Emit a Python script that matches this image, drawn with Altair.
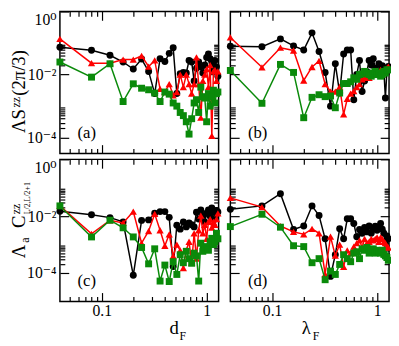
import altair as alt
import pandas as pd

SERIF = "Liberation Serif, Times New Roman, DejaVu Serif, serif"

# x positions shared by all four panels (d_F for left column, lambda_F for right column)
X = [0.04, 0.08, 0.12, 0.16, 0.2, 0.24, 0.28, 0.32, 0.36, 0.4, 0.44, 0.48, 0.52, 0.56, 0.6, 0.64,
     0.68, 0.72, 0.76, 0.8, 0.84, 0.88, 0.92, 0.96, 1.0, 1.04, 1.08, 1.12, 1.16, 1.2, 1.24, 1.28]

# panel (a)
A_BLACK = [7.4e-2, 5.9e-2, 4.1e-2, 2.5e-2, 1.5e-2, 3.1e-2, 1.26e-2, 2.5e-3, 3.2e-2, 2.6e-2, 4.7e-2, 7.1e-2,
           2.5e-3, 1.07e-2, 1.17e-2, 1.12e-2, 2.8e-2, 2.5e-2, 6.3e-3, 1.58e-2, 2.5e-2, 1.78e-2, 1.12e-2, 2.0e-2,
           3.5e-2, 4.5e-2, 3.2e-2, 2.5e-2, 1.41e-2, 2.8e-2, 1.78e-2, 8.9e-3]
A_RED = [1.35e-1, 2.3e-2, 2.3e-2, 3.0e-2, 3.0e-2, 3.9e-2, 1.8e-2, 2.8e-2, 3.5e-3, 2.8e-3, 5.0e-3, 2.2e-3,
         2.8e-3, 1.0e-2, 4.0e-3, 1.0e-2, 5.0e-3, 2.5e-3, 5.0e-3, 3.5e-2, 5.0e-3, 4.3e-4, 6.3e-3, 1.0e-2,
         1.5e-2, 4.0e-3, 2.0e-2, 1.15e-4, 1.26e-2, 1.41e-2, 6.3e-3, 1.26e-2]
A_GREEN = [2.5e-2, 8.3e-3, 2.2e-2, 1.4e-3, 5.1e-3, 3.7e-3, 3.3e-3, 2.6e-3, 1.4e-3, 2.8e-3, 2.4e-3, 1.26e-3,
           1.0e-3, 6.3e-4, 5.0e-4, 3.2e-4, 1.3e-4, 4.0e-4, 1.26e-3, 1.6e-3, 6.3e-4, 4.0e-3, 2.0e-3, 1.8e-3,
           3.2e-4, 2.5e-3, 1.0e-3, 2.0e-3, 3.2e-3, 1.26e-3, 2.5e-3, 2.8e-3]

# panel (b)
B_BLACK = [7.9e-2, 7.6e-2, 1.35e-1, 8.1e-2, 6.0e-2, 2.1e-1, 5.4e-2, 1.17e-2, 1.0e-3, 2.2e-2, 2.6e-3, 4.5e-2,
           6.0e-2, 6.0e-2, 1.6e-3, 1.0e-2, 2.8e-2, 2.9e-3, 6.3e-3, 1.23e-2, 2.8e-2, 2.0e-2, 3.2e-2, 1.6e-2,
           1.23e-2, 2.2e-2, 1.26e-2, 1.9e-2, 1.4e-2, 1.8e-3, 1.26e-2, 1.8e-2]
B_RED = [1.5e-1, 1.7e-2, 7.1e-2, 5.8e-2, 6.5e-3, 1.74e-2, 2.7e-2, 5.0e-3, 2.9e-3, 2.9e-3, 4.1e-3, 5.5e-4,
         1.7e-3, 2.5e-3, 3.0e-3, 4.0e-3, 5.0e-3, 7.1e-3, 7.9e-3, 8.9e-3, 7.9e-3, 1.0e-2, 1.12e-2, 1.0e-2,
         1.26e-2, 1.12e-2, 1.41e-2, 1.0e-2, 1.26e-2, 1.41e-2, 1.58e-2, 1.78e-2]
B_GREEN = [1.35e-2, 1.23e-3, 2.1e-2, 1.17e-2, 4.3e-4, 1.9e-3, 2.3e-3, 2.0e-3, 2.1e-3, 8.9e-4, 2.6e-3, 5.2e-3,
           5.2e-3, 5.9e-3, 7.9e-3, 7.1e-3, 1.0e-2, 1.05e-2, 1.26e-2, 1.12e-2, 1.0e-2, 8.9e-3, 1.12e-2, 1.26e-2,
           1.0e-2, 1.12e-2, 8.9e-3, 1.0e-2, 1.26e-2, 1.12e-2, 1.41e-2, 1.41e-2]

# panel (c)
C_BLACK = [1.5e-2, 1.12e-2, 8.9e-3, 6.3e-3, 8.3e-5, 7.1e-3, 7.4e-3, 1.26e-2, 1.45e-2, 1.45e-2, 9.1e-3, 1.7e-4,
           4.8e-3, 3.5e-3, 6.3e-3, 4.2e-3, 5.8e-3, 5.0e-3, 4.2e-3, 1.38e-2, 7.9e-3, 1.66e-2, 1.05e-2, 6.3e-3,
           1.26e-2, 1.66e-2, 1.0e-2, 1.95e-2, 1.38e-2, 7.9e-3, 1.58e-2, 1.41e-2]
C_RED = [2.3e-2, 2.4e-3, 7.2e-3, 5.8e-3, 1.45e-2, 1.12e-3, 3.0e-3, 1.2e-2, 3.2e-3, 9.1e-4, 2.3e-3, 3.9e-4,
         1.0e-3, 6.3e-4, 1.5e-4, 6.3e-4, 1.26e-3, 2.3e-4, 2.5e-3, 3.2e-4, 3.2e-3, 1.05e-2, 2.5e-3, 5.0e-3,
         1.6e-3, 6.3e-3, 7.9e-3, 4.0e-3, 6.3e-3, 5.0e-3, 7.9e-3, 1.26e-2]
C_GREEN = [2.3e-2, 1.86e-3, 7.2e-3, 3.9e-3, 1.86e-3, 7.9e-4, 2.1e-4, 7.1e-4, 5.2e-5, 1.9e-4, 5.0e-5, 2.5e-4,
           8.9e-5, 4.4e-4, 2.3e-4, 5.8e-4, 3.2e-4, 2.2e-4, 5.0e-4, 4.0e-4, 5.2e-5, 1.12e-3, 5.8e-4, 7.9e-4,
           8.5e-4, 6.3e-4, 1.26e-3, 1.66e-3, 1.0e-3, 1.26e-3, 2.5e-3, 1.6e-3]

# panel (d)
D_BLACK = [1.74e-2, 2.3e-2, 6.2e-2, 3.4e-3, 4.5e-3, 2.3e-2, 1.05e-2, 1.6e-3, 7.6e-5, 4.4e-4, 3.6e-3, 1.6e-3,
           8.1e-3, 8.1e-3, 5.5e-3, 1.9e-3, 3.4e-3, 2.5e-3, 4.0e-3, 2.8e-3, 4.5e-3, 2.5e-3, 3.5e-3, 4.4e-3,
           3.2e-3, 4.0e-3, 5.5e-3, 3.5e-3, 2.5e-3, 1.12e-3, 2.0e-3, 1.6e-3]
D_RED = [4.4e-2, 2.1e-2, 4.5e-3, 2.8e-3, 2.3e-3, 3.6e-3, 2.5e-3, 9.1e-5, 1.9e-3, 4.1e-4, 1.0e-3, 1.66e-4,
         6.3e-4, 5.0e-4, 8.5e-4, 1.12e-3, 1.41e-3, 7.9e-4, 1.6e-3, 1.12e-3, 1.26e-3, 1.6e-3, 1.41e-3, 1.6e-3,
         1.8e-3, 1.26e-3, 1.8e-3, 1.6e-3, 1.26e-3, 1.12e-3, 8.9e-4, 7.9e-4]
D_GREEN = [4.3e-3, 1.17e-2, 4.1e-3, 9.1e-4, 8.5e-4, 2.3e-4, 3.2e-4, 5.8e-5, 1.17e-4, 8.9e-5, 2.0e-4, 4.4e-4,
           3.2e-4, 2.5e-4, 5.0e-4, 5.6e-4, 3.2e-4, 7.1e-4, 6.3e-4, 7.9e-4, 5.0e-4, 6.3e-4, 7.1e-4, 5.0e-4,
           6.3e-4, 5.6e-4, 5.0e-4, 6.3e-4, 4.5e-4, 4.0e-4, 3.5e-4, 2.8e-4]

X_DOMAIN = [0.04, 1.3]
Y_DOMAIN_TOP = [3.16e-5, 1.0]
Y_DOMAIN_BOTTOM = [1e-5, 1.0]
X_MAJOR = [0.1, 1]
X_MINOR = [0.05, 0.06, 0.07, 0.08, 0.09, 0.2, 0.3, 0.4, 0.5, 0.6, 0.7, 0.8, 0.9]
Y_MAJOR = [1, 0.01, 0.0001]
Y_LABELS = ["10\u2070", "10\u207b\u00b2", "10\u207b\u2074"]
Y_MINOR = [0.09, 0.08, 0.07, 0.06, 0.05, 0.04, 0.03, 0.02,
           0.0009, 0.0008, 0.0007, 0.0006, 0.0005, 0.0004, 0.0003, 0.0002]
PANEL_LETTERS = ["(a)", "(b)", "(c)", "(d)"]

BLACK, RED, GREEN = "#000000", "#ff0000", "#0a8a0a"
W, H = 162, 145

ylab_expr = "'" + Y_LABELS[-1] + "'"
for v, lab in reversed(list(zip(Y_MAJOR[:-1], Y_LABELS[:-1]))):
    ylab_expr = f"datum.value == {v} ? '{lab}' : " + ylab_expr


def tick_axis(orient, offset, values, major):
    return alt.Axis(orient=orient, offset=offset, values=values, labels=False, domain=False,
                    grid=False, title=None, ticks=True, tickColor="black", tickWidth=1.2,
                    tickSize={"condition": {"test": f"indexof({major}, datum.value) >= 0", "value": 9},
                              "value": 5})


def one(v):
    return pd.DataFrame({"z": [v]})


def txt(s, x, y, size, angle=0, align="left", baseline="alphabetic"):
    kw = dict(text=s, font=SERIF, fontSize=size, color="black", align=align, baseline=baseline)
    if angle:
        kw["angle"] = angle
    return alt.Chart(one(0)).mark_text(**kw).encode(x=alt.value(x), y=alt.value(y))


def panel(black, red, green, ydom, letter, xlabels, ylabels, extras):
    xs = alt.Scale(type="log", domain=X_DOMAIN, nice=False)
    ys = alt.Scale(type="log", domain=ydom, nice=False)
    xlab_axis = alt.Axis(orient="bottom", values=X_MAJOR, format="~g", ticks=False, domain=False,
                         grid=False, title=None, labelFont=SERIF, labelFontSize=16, labelColor="black",
                         labelPadding=1, labelFlush=False) if xlabels else None
    ylab_axis = alt.Axis(orient="left", values=Y_MAJOR, labelExpr=ylab_expr, ticks=False, domain=False,
                         grid=False, title=None, labelFont=SERIF, labelFontSize=16, labelColor="black",
                         labelPadding=4, labelFlush=True) if ylabels else None
    all_x = X_MAJOR + X_MINOR
    all_y = Y_MAJOR + Y_MINOR

    def base(vals):
        return alt.Chart(pd.DataFrame({"x": X, "y": vals}))

    layers = [
        base(black).mark_line(color=BLACK, strokeWidth=1.5).encode(
            x=alt.X("x:Q", scale=xs, axis=xlab_axis), y=alt.Y("y:Q", scale=ys, axis=ylab_axis)),
        base(black).mark_point(shape="circle", filled=True, color=BLACK, size=50, opacity=1).encode(
            x=alt.X("x:Q", scale=xs, axis=tick_axis("top", -H, all_x, X_MAJOR)),
            y=alt.Y("y:Q", scale=ys, axis=tick_axis("right", -W, all_y, Y_MAJOR))),
        base(red).mark_line(color=RED, strokeWidth=1.5).encode(
            x=alt.X("x:Q", scale=xs, axis=tick_axis("bottom", -H, all_x, X_MAJOR)),
            y=alt.Y("y:Q", scale=ys, axis=tick_axis("left", -W, all_y, Y_MAJOR))),
        base(red).mark_point(shape="triangle-up", filled=True, color=RED, size=55, opacity=1).encode(
            x=alt.X("x:Q", scale=xs, axis=None), y=alt.Y("y:Q", scale=ys, axis=None)),
        base(green).mark_line(color=GREEN, strokeWidth=1.5).encode(
            x=alt.X("x:Q", scale=xs, axis=None), y=alt.Y("y:Q", scale=ys, axis=None)),
        base(green).mark_point(shape="square", filled=True, color=GREEN, size=50, opacity=1).encode(
            x=alt.X("x:Q", scale=xs, axis=None), y=alt.Y("y:Q", scale=ys, axis=None)),
        txt(letter, 18, 124, 17, baseline="middle"),
    ] + extras
    return alt.layer(*layers).properties(width=W, height=H).resolve_axis(x="independent", y="independent")


title_a = [
    txt("\u039bS", -36, 124, 19, angle=270),
    txt("zz", -41, 98, 12, angle=270),
    txt("(2\u03c0/3)", -36, 86, 19, angle=270),
]
title_c = [
    txt("\u039b", -36, 101, 19, angle=270),
    txt("a", -32, 85, 12, angle=270),
    txt("C", -36, 70, 19, angle=270),
    txt("zz", -41, 56, 12, angle=270),
    txt("L/2,L/2+1", -31, 56, 8, angle=270),
    txt("d", 112, 178, 19),
    txt("F", 122, 184, 12),
]
title_d = [
    txt("\u03bb", 73, 178, 19),
    txt("F", 84, 184, 12),
]

pa = panel(A_BLACK, A_RED, A_GREEN, Y_DOMAIN_TOP, PANEL_LETTERS[0], False, True, title_a)
pb = panel(B_BLACK, B_RED, B_GREEN, Y_DOMAIN_TOP, PANEL_LETTERS[1], False, False, [])
pc = panel(C_BLACK, C_RED, C_GREEN, Y_DOMAIN_BOTTOM, PANEL_LETTERS[2], True, True, title_c)
pd_ = panel(D_BLACK, D_RED, D_GREEN, Y_DOMAIN_BOTTOM, PANEL_LETTERS[3], True, False, title_d)

chart = alt.concat(pa, pb, pc, pd_, columns=2, spacing={"row": 6, "column": 12}, bounds="flush").properties(
    autosize=alt.AutoSizeParams(type="none"),
    padding={"left": 53, "top": 0, "right": 338, "bottom": 338},
).configure_view(stroke="black", strokeWidth=1.5)

chart.save("out.html", embed_options={"renderer": "svg", "actions": False})
